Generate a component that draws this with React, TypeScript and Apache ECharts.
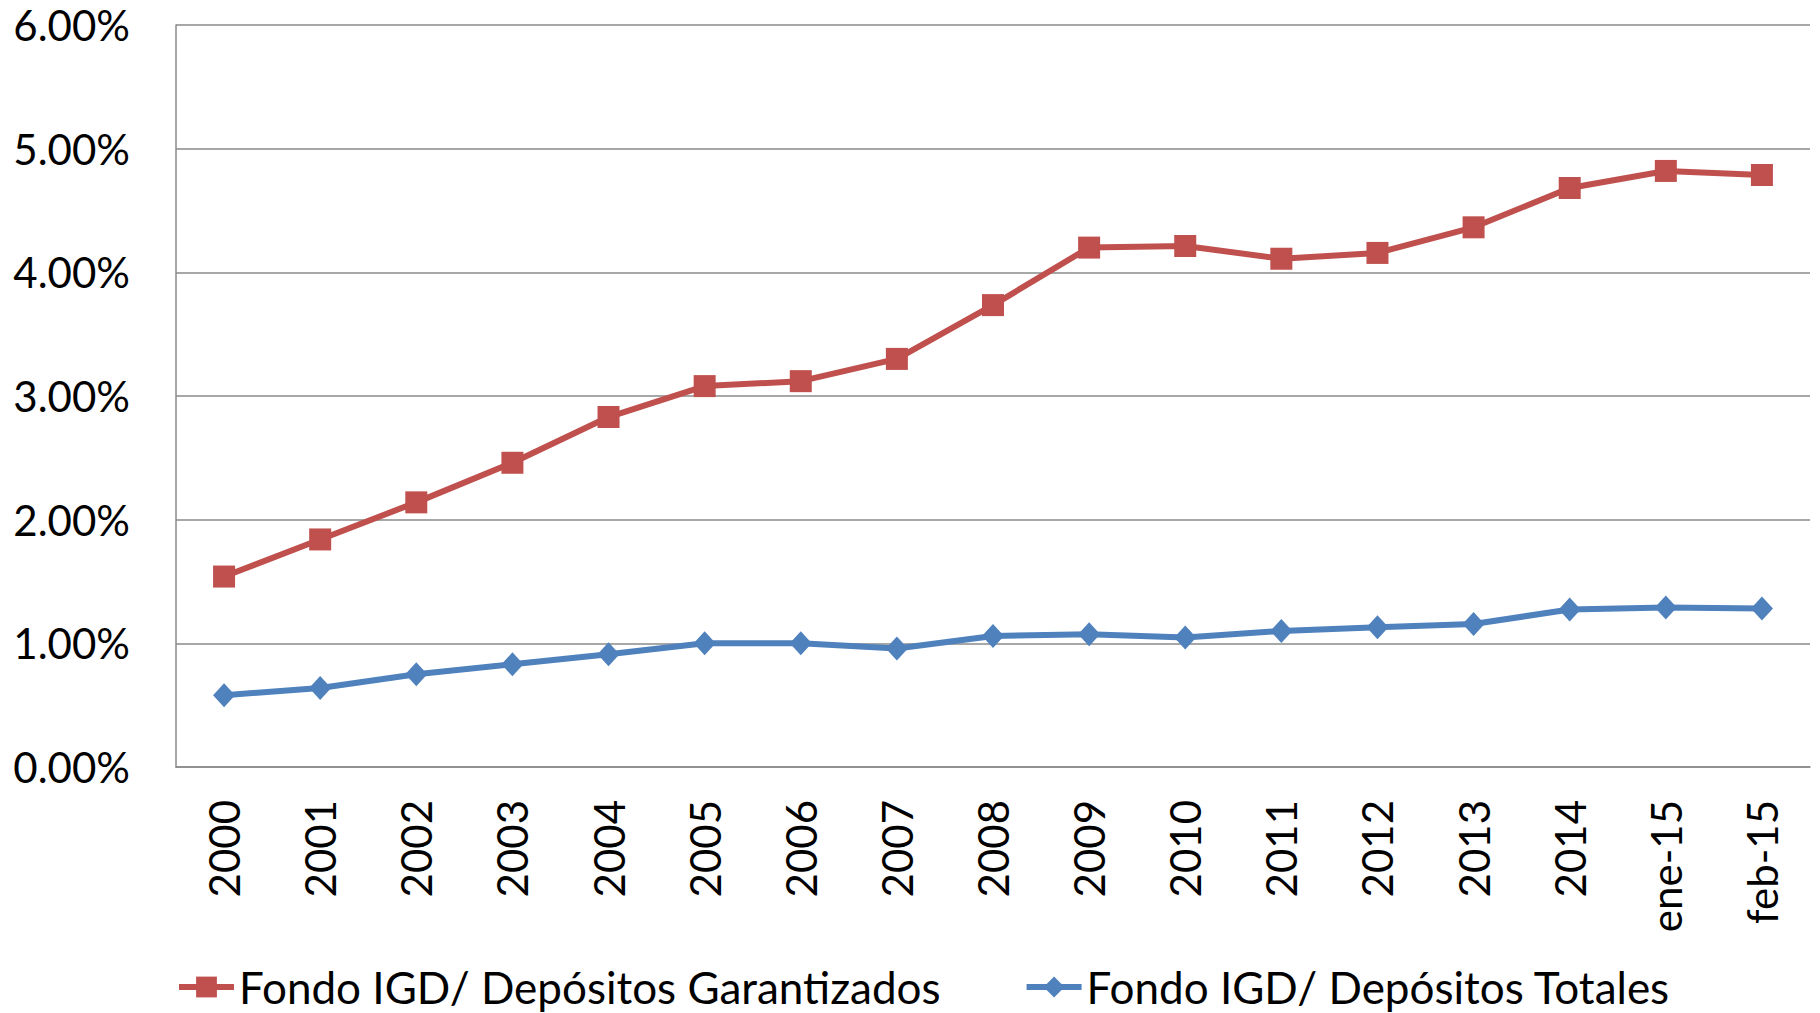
import React, { useEffect, useRef } from "react";
import * as echarts from "echarts";

const categories = ["2000","2001","2002","2003","2004","2005","2006","2007","2008","2009","2010","2011","2012","2013","2014","ene-15","feb-15"];
const garantizados = [1.54, 1.84, 2.14, 2.46, 2.83, 3.08, 3.12, 3.30, 3.735, 4.20, 4.213, 4.11, 4.157, 4.364, 4.682, 4.82, 4.787];
const totales = [0.58, 0.639, 0.75, 0.83, 0.912, 1.00, 1.00, 0.958, 1.06, 1.074, 1.047, 1.10, 1.13, 1.157, 1.273, 1.29, 1.281];
const yTicks = [0, 1, 2, 3, 4, 5, 6];

const seriesNames = ["Fondo IGD/ Depósitos Garantizados", "Fondo IGD/ Depósitos Totales"];

const FONT = "Lato";

export default function App() {
  const ref = useRef<HTMLDivElement>(null);
  useEffect(() => {
    if (!ref.current) return;
    const chart = echarts.init(ref.current, null, { renderer: "svg" });
    chart.setOption({
      animation: false,
      backgroundColor: "#ffffff",
      grid: { left: 176, right: 10, top: 25, bottom: 246, containLabel: false },
      xAxis: {
        type: "category",
        data: categories,
        boundaryGap: true,
        axisLine: { show: true, lineStyle: { color: "#8a8a8a", width: 1.5 } },
        axisTick: { show: false },
        axisLabel: {
          rotate: 90,
          margin: 33,
          color: "#000",
          fontFamily: FONT,
          fontSize: 42,
          interval: 0,
        },
        splitLine: { show: false },
      },
      yAxis: {
        type: "value",
        min: yTicks[0],
        max: yTicks[yTicks.length - 1],
        interval: 1,
        axisLine: { show: true, lineStyle: { color: "#8a8a8a", width: 1.5 } },
        axisTick: { show: false },
        axisLabel: {
          margin: 46,
          color: "#000",
          fontFamily: FONT,
          fontSize: 42,
          formatter: (v: number) => v.toFixed(2) + "%",
        },
        splitLine: { show: true, lineStyle: { color: "#8a8a8a", width: 1.5 } },
      },
      legend: {
        left: 171,
        top: 960,
        itemWidth: 55,
        itemHeight: 26,
        itemGap: 83,
        lineStyle: { width: 6 },
        textStyle: { color: "#000", fontFamily: FONT, fontSize: 44, lineHeight: 44 },
        data: seriesNames,
      },
      series: [
        {
          name: seriesNames[0],
          type: "line",
          data: garantizados,
          symbol: "rect",
          symbolSize: 22,
          lineStyle: { color: "#C0504D", width: 6 },
          itemStyle: { color: "#C0504D" },
          z: 3,
        },
        {
          name: seriesNames[1],
          type: "line",
          data: totales,
          symbol: "diamond",
          symbolSize: [22, 24],
          lineStyle: { color: "#4F81BD", width: 6 },
          itemStyle: { color: "#4F81BD" },
          z: 3,
        },
      ],
    });
    return () => chart.dispose();
  }, []);
  return <div ref={ref} style={{ width: 1820, height: 1013, position: "absolute", left: 0, top: 0 }} />;
}
